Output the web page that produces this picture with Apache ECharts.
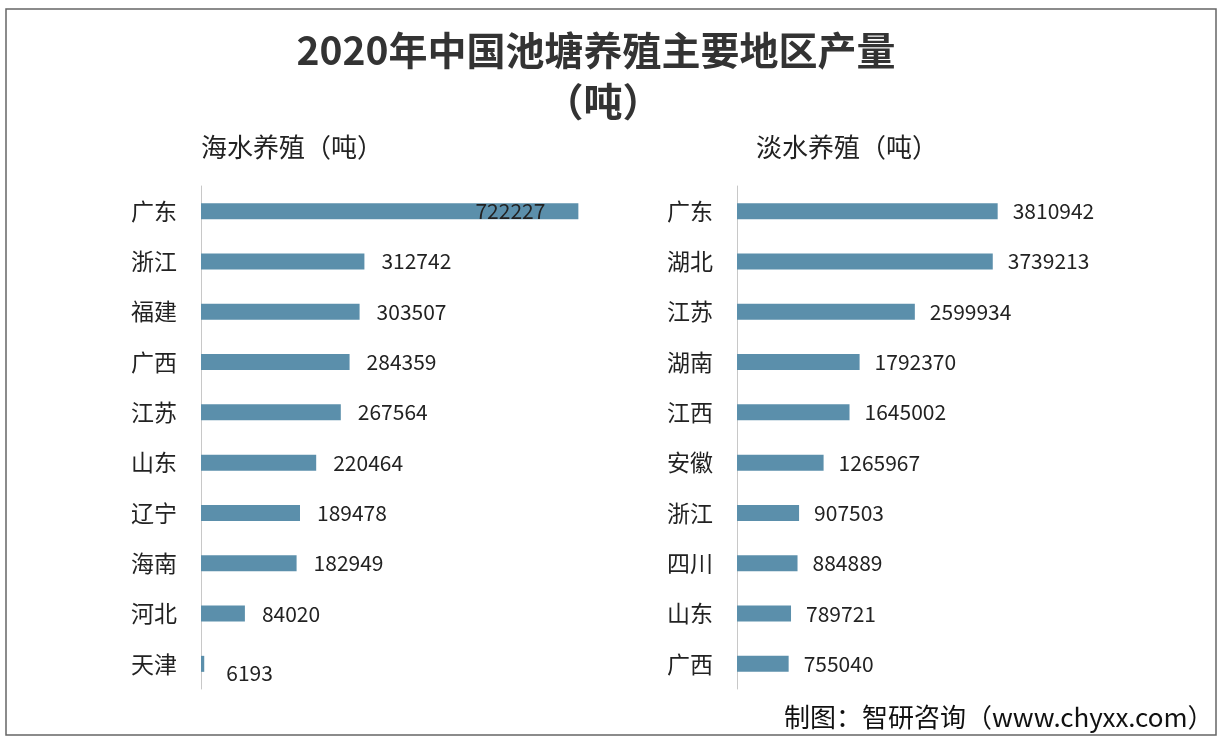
<!DOCTYPE html>
<html>
<head>
<meta charset="utf-8">
<script src="https://cdn.jsdelivr.net/npm/echarts@6/dist/echarts.min.js"></script>
<style>
html, body { margin: 0; padding: 0; background: #fff; }
#main { width: 1226px; height: 742px; }
</style>
</head>
<body>
<div id="main"></div>
<script>
var seaRegions = ['广东', '浙江', '福建', '广西', '江苏', '山东', '辽宁', '海南', '河北', '天津'];
var seaValues = [722227, 312742, 303507, 284359, 267564, 220464, 189478, 182949, 84020, 6193];
var freshRegions = ['广东', '湖北', '江苏', '湖南', '江西', '安徽', '浙江', '四川', '山东', '广西'];
var freshValues = [3810942, 3739213, 2599934, 1792370, 1645002, 1265967, 907503, 884889, 789721, 755040];

var font = '"Noto Sans CJK SC", "Noto Sans", sans-serif';
var barColor = '#5b8fab';

var myChart = echarts.init(document.getElementById('main'));

// 广东 label sits inside the bar in the original, 天津 label a bit lower
var seaData = seaValues.map(function (v, i) {
    if (i === 0) {
        return { value: v, label: { position: 'insideRight', distance: 33 } };
    }
    if (i === seaValues.length - 1) {
        return { value: v, label: { distance: 22, offset: [0, 9] } };
    }
    return v;
});

function catAxis(idx, data) {
    return {
        type: 'category',
        gridIndex: idx,
        inverse: true,
        data: data,
        axisLine: { lineStyle: { color: '#c8c8c8', width: 1 } },
        axisTick: { show: false },
        axisLabel: { color: '#222', fontSize: 23, fontFamily: font, margin: 24 }
    };
}

function valAxis(idx, max) {
    return {
        type: 'value',
        gridIndex: idx,
        min: 0,
        max: max,
        show: false,
        splitLine: { show: false }
    };
}

option = {
    backgroundColor: '#fff',
    animation: false,
    title: [{
        text: '2020年中国池塘养殖主要地区产量',
        left: 591,
        top: 26,
        textAlign: 'center',
        textStyle: { fontSize: 39, fontWeight: 'bold', color: '#333', fontFamily: font }
    }, {
        text: '（吨）',
        left: 598,
        top: 77,
        textAlign: 'center',
        textStyle: { fontSize: 39, fontWeight: 'bold', color: '#333', fontFamily: font }
    }, {
        text: '海水养殖（吨）',
        left: 196,
        top: 129,
        textStyle: { fontSize: 26, fontWeight: 'normal', color: '#222', fontFamily: font }
    }, {
        text: '淡水养殖（吨）',
        left: 751,
        top: 129,
        textStyle: { fontSize: 26, fontWeight: 'normal', color: '#222', fontFamily: font }
    }, {
        text: '制图：智研咨询（www.chyxx.com）',
        left: 779,
        top: 699,
        textStyle: { fontSize: 26, fontWeight: 'normal', color: '#111', fontFamily: font }
    }],
    graphic: [{
        type: 'rect',
        shape: { x: 6, y: 9, width: 1210, height: 726 },
        style: { fill: 'none', stroke: '#666', lineWidth: 1.5 },
        z: -1
    }],
    grid: [
        { left: 201, top: 186, width: 418, height: 503 },
        { left: 737, top: 186, width: 342, height: 503 }
    ],
    xAxis: [valAxis(0, 800000), valAxis(1, 5000000)],
    yAxis: [catAxis(0, seaRegions), catAxis(1, freshRegions)],
    series: [{
        name: '海水养殖',
        type: 'bar',
        xAxisIndex: 0,
        yAxisIndex: 0,
        barWidth: 16,
        data: seaData,
        itemStyle: { color: barColor },
        label: {
            show: true,
            position: 'right',
            distance: 17,
            color: '#222',
            fontSize: 21,
            fontFamily: font
        }
    }, {
        name: '淡水养殖',
        type: 'bar',
        xAxisIndex: 1,
        yAxisIndex: 1,
        barWidth: 16,
        data: freshValues,
        itemStyle: { color: barColor },
        label: {
            show: true,
            position: 'right',
            distance: 15,
            color: '#222',
            fontSize: 21,
            fontFamily: font
        }
    }]
};
myChart.setOption(option);
</script>
</body>
</html>
